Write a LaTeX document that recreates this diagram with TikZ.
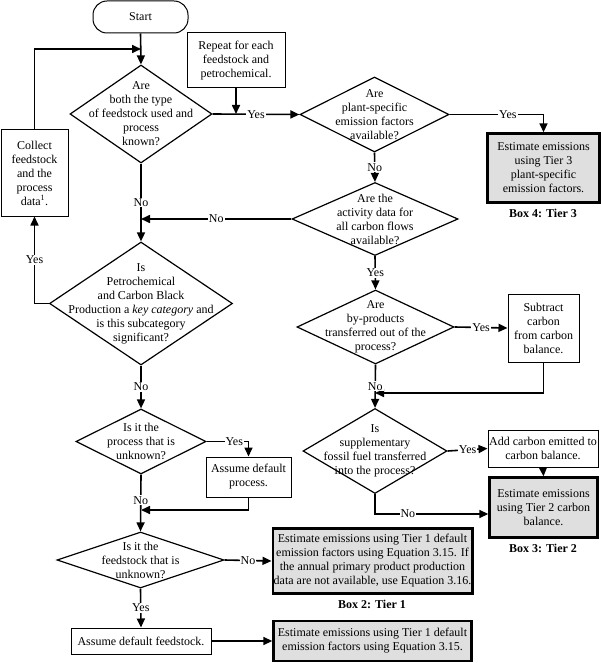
\documentclass[tikz,border=0pt]{standalone}
\usepackage{fontspec}
\setmainfont{Liberation Serif}
\usetikzlibrary{shapes.geometric,arrows.meta}
\begin{document}
\begin{tikzpicture}[x=1pt,y=-1pt,
  font=\fontsize{12}{14}\selectfont,
  arr/.style={line width=1.6pt,-{Triangle[length=9pt,width=8pt]}},
  dia/.style={draw,diamond,line width=1.2pt,inner sep=0pt},
  dtext/.style={align=center,inner sep=0pt},
  box/.style={draw,rectangle,line width=1pt,align=center,inner sep=1pt},
  gbox/.style={draw,rectangle,line width=2.4pt,fill=gray!25,align=center,inner sep=1pt},
  term/.style={draw,rectangle,rounded corners=14pt,line width=1pt,minimum width=95pt,minimum height=32pt},
  lab/.style={fill=white,inner sep=1pt},
  boxcap/.style={font=\fontsize{12}{14}\selectfont\bfseries,inner sep=0pt},
]
\useasboundingbox (0,0) rectangle (601,663);

% nodes
\node[term] (start) at (140.5,17) {Start};
\node[box,minimum width=98pt,minimum height=55pt] (rep) at (236,60.5) {Repeat for each\\feedstock and\\petrochemical.};
\node[dia,minimum width=142pt,minimum height=98pt] (d1) at (141,114) {};
\node[dtext] (d1t) at (d1) {Are\\both the type\\of feedstock used and\\process\\known?};
\node[box,minimum width=67pt,minimum height=86pt] (col) at (34.5,173) {Collect\\feedstock\\and the\\process\\data\textsuperscript{1}.};
\node[dia,minimum width=149pt,minimum height=75pt] (d2) at (374.5,114.5) {};
\node[dtext] (d2t) at (d2) {Are\\plant-specific\\emission factors\\available?};
\node[gbox,minimum width=112pt,minimum height=69pt] (t3) at (543.5,168) {Estimate emissions\\using Tier 3\\plant-specific\\emission factors.};
\node[boxcap] (c3) at (543,213) {Box 4: Tier 3};
\node[dia,minimum width=166pt,minimum height=73pt] (d3) at (375,219) {};
\node[dtext] (d3t) at (d3) {Are the\\activity data for\\all carbon flows\\available?};
\node[dia,minimum width=183pt,minimum height=123pt] (d4) at (141,303.5) {};
\node[dtext] (d4t) at (d4) {Is\\Petrochemical\\and Carbon Black\\Production a \textit{key category} and\\is this subcategory\\significant?};
\node[dia,minimum width=157pt,minimum height=74pt] (d7) at (375.5,327) {};
\node[dtext] (d7t) at (d7) {Are\\by-products\\transferred out of the\\process?};
\node[box,minimum width=71pt,minimum height=68pt] (sub) at (543.5,328) {Subtract\\carbon\\from carbon\\balance.};
\node[dia,minimum width=144pt,minimum height=85pt] (d8) at (375,451) {};
\node[dtext] (d8t) at (d8) {Is\\supplementary\\fossil fuel transferred\\into the process?};
\node[box,minimum width=110pt,minimum height=37pt] (add) at (543,448.5) {Add carbon emitted to\\carbon balance.};
\node[gbox,minimum width=108pt,minimum height=60pt] (t2) at (543.5,507.5) {Estimate emissions\\using Tier 2 carbon\\balance.};
\node[boxcap] (c2) at (543,548) {Box 3: Tier 2};
\node[dia,minimum width=130pt,minimum height=65pt] (d5) at (141,441.5) {};
\node[dtext] (d5t) at (d5) {Is it the\\process that is\\unknown?};
\node[box,minimum width=85pt,minimum height=40pt] (proc) at (248.5,477) {Assume default\\process.};
\node[dia,minimum width=167pt,minimum height=56pt] (d6) at (140.5,560) {};
\node[dtext] (d6t) at (d6) {Is it the\\feedstock that is\\unknown?};
\node[gbox,minimum width=198pt,minimum height=65pt] (t1) at (372.5,561) {Estimate emissions using Tier 1 default\\emission factors using Equation 3.15. If\\the annual primary product production\\data are not available, use Equation 3.16.};
\node[boxcap] (c1) at (372,604) {Box 2: Tier 1};
\node[box,minimum width=140pt,minimum height=26pt] (feed) at (141,641) {Assume default feedstock.};
\node[gbox,minimum width=198pt,minimum height=40pt] (t1b) at (372.5,641) {Estimate emissions using Tier 1 default\\emission factors using Equation 3.15.};

% junction coordinates
\coordinate (j1) at (141,49);
\coordinate (j2) at (141,510);
\coordinate (j3) at (375,393);
\coordinate (j4) at (0,514);

% connectors
\draw[arr] (start.south) -- (d1.north);
\draw[arr] (col.north) |- (j1);
\draw[arr] (d1.east) -- node[lab]{Yes} (d2.west);
\draw[arr] (rep.south) -- (rep.south |- d1.east);
\draw[arr] (d2.east) -| node[lab,pos=0.31]{Yes} (t3.north);
\draw[arr] (d2.south) -- node[lab]{No} (d3.north);
\draw[arr] (d3.west) -- node[lab]{No} (d1.south |- d3.west);
\draw[arr] (d1.south) -- node[lab]{No} (d4.north);
\draw[arr] (d4.west) -| node[lab,pos=0.75]{Yes} (col.south);
\draw[arr] (d4.south) -- node[lab]{No} (d5.north);
\draw[arr] (d5.east) -| node[lab,pos=0.33]{Yes} (proc.north);
\draw[arr] (proc.south) |- (j2);
\draw[arr] (d5.south) -- node[lab,pos=0.45]{No} (d6.north);
\draw[arr] (d6.east) -- node[lab]{No} (t1.west);
\draw[arr] (d6.south) -- node[lab]{Yes} (feed.north);
\draw[arr] (feed.east) -- (t1b.west);
\draw[arr] (d3.south) -- node[lab]{Yes} (d7.north);
\draw[arr] (d7.east) -- node[lab]{Yes} (sub.west);
\draw[arr] (sub.south) |- (j3);
\draw[arr] (d7.south) -- node[lab]{No} (d8.north);
\draw[arr] (d8.east) -- node[lab]{Yes} (add.west);
\draw[arr] (add.south) -- (t2.north);
\draw[arr] (d8.south) |- node[lab,pos=0.645]{No} (t2.west |- j4);
\end{tikzpicture}
\end{document}
